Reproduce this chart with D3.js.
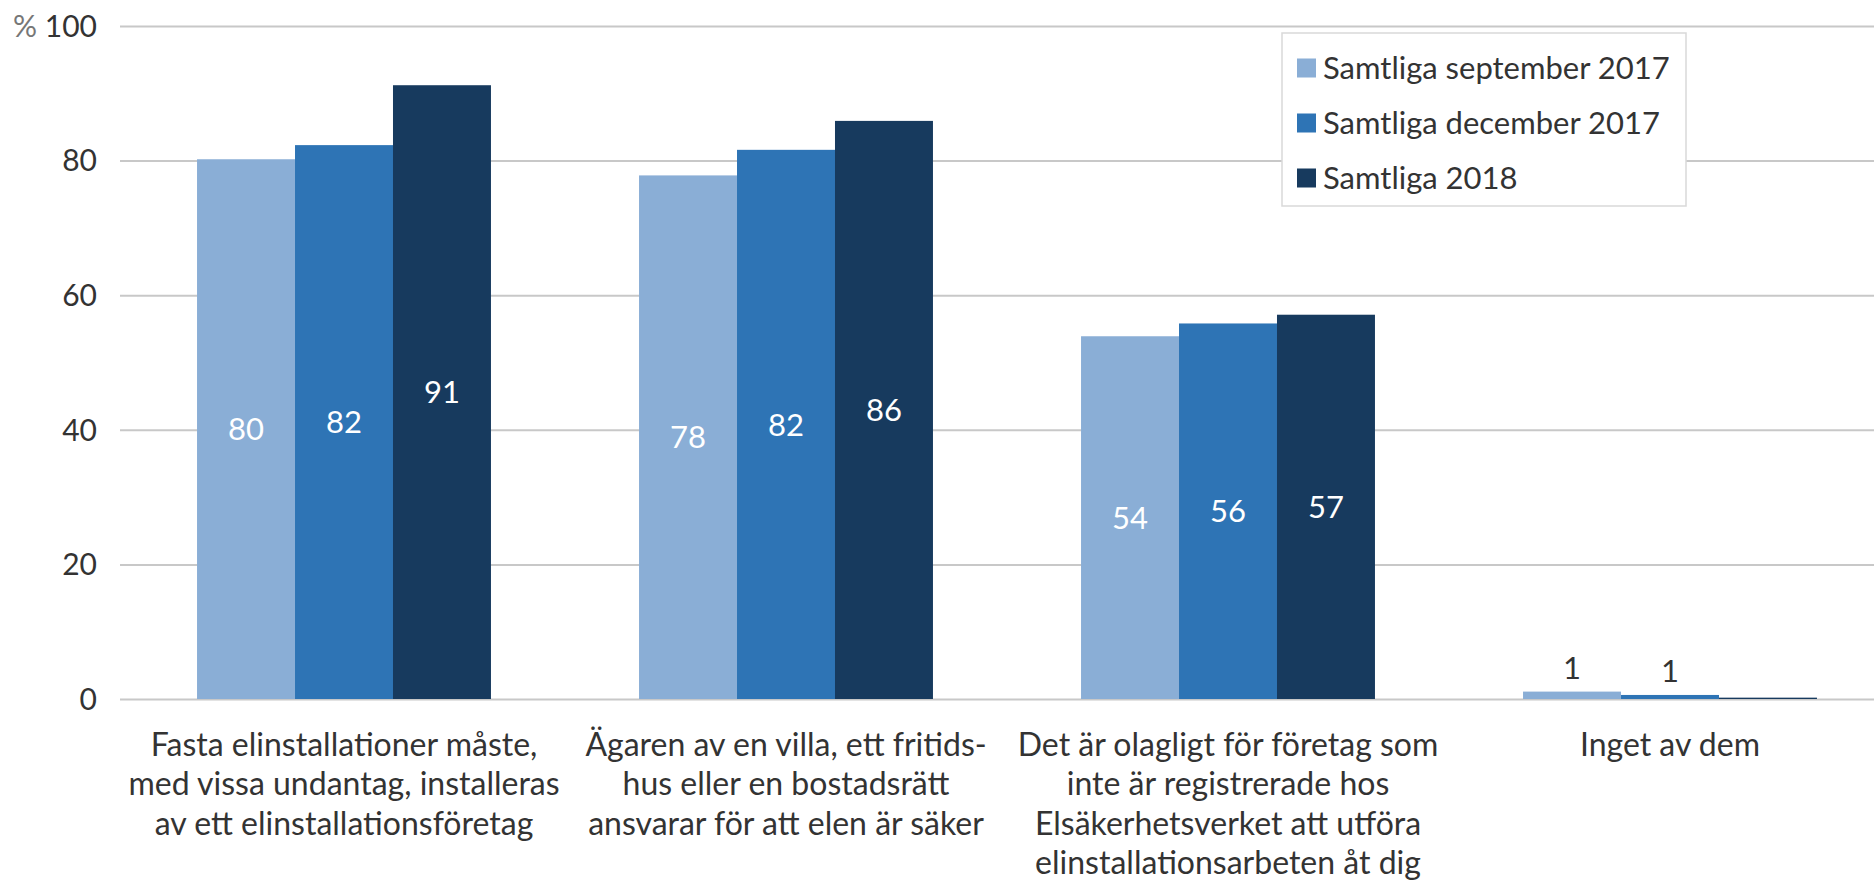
<!DOCTYPE html>
<html>
<head>
<meta charset="utf-8">
<script src="https://cdn.jsdelivr.net/npm/d3@7"></script>
<style>
  html, body { margin: 0; padding: 0; background: #fff; }
  svg { display: block; }
</style>
</head>
<body>
<svg id="chart"></svg>
<script>
// Data
const categories = ['fasta', 'agaren', 'olagligt', 'inget'];
const categoryLines = [
  ['Fasta elinstallationer måste,', 'med vissa undantag, installeras', 'av ett elinstallationsföretag'],
  ['Ägaren av en villa, ett fritids-', 'hus eller en bostadsrätt', 'ansvarar för att elen är säker'],
  ['Det är olagligt för företag som', 'inte är registrerade hos', 'Elsäkerhetsverket att utföra', 'elinstallationsarbeten åt dig'],
  ['Inget av dem']
];
const seriesNames = ['Samtliga september 2017', 'Samtliga december 2017', 'Samtliga 2018'];
const sep2017 = [80.2, 77.8, 53.9, 1.1];
const dec2017 = [82.3, 81.6, 55.8, 0.6];
const y2018 = [91.2, 85.9, 57.1, 0.2];
const yTicks = [0, 20, 40, 60, 80, 100];
const colors = ['#8aaed6', '#2e74b5', '#173a5e'];

const width = 1874;
const height = 881;
const font = 'Lato, "Open Sans", sans-serif';
const textColor = '#333333';

const svg = d3.select('#chart')
  .attr('width', width)
  .attr('height', height)
  .attr('font-family', font);

const seriesValues = [sep2017, dec2017, y2018];
const rows = categories.map((c, i) => ({
  key: c,
  lines: categoryLines[i],
  values: seriesValues.map((s, j) => ({ series: j, value: s[i] }))
}));

// Scales
const x0 = d3.scaleBand()
  .domain(categories)
  .range([123, 1891])
  .paddingInner(0.335)
  .paddingOuter(0.1675);

const x1 = d3.scaleBand()
  .domain(d3.range(seriesNames.length))
  .range([0, x0.bandwidth()]);

const y = d3.scaleLinear()
  .domain([0, 100])
  .range([699, 26]);

// Gridlines
const gridLeft = 120;
svg.append('g')
  .attr('transform', `translate(${gridLeft},0)`)
  .call(d3.axisLeft(y).tickValues(yTicks).tickSize(-(width - gridLeft)).tickFormat(''))
  .call(g => g.select('.domain').remove())
  .call(g => g.selectAll('line').attr('stroke', '#c8c8c8').attr('stroke-width', 2));

// Y labels
const yLabels = svg.append('g')
  .selectAll('text')
  .data(yTicks)
  .join('text')
  .attr('x', 97)
  .attr('y', d => y(d))
  .attr('dy', '0.36em')
  .attr('text-anchor', 'end')
  .attr('font-size', 30)
  .attr('fill', textColor);

yLabels.filter(d => d !== 100).text(d => d);
yLabels.filter(d => d === 100).each(function(d) {
  const t = d3.select(this);
  t.append('tspan').attr('fill', '#777').text('% ');
  t.append('tspan').text(d);
});

// Bars
const groups = svg.append('g')
  .selectAll('g')
  .data(rows)
  .join('g')
  .attr('transform', d => `translate(${x0(d.key)},0)`);

groups.selectAll('rect')
  .data(d => d.values)
  .join('rect')
  .attr('x', d => x1(d.series))
  .attr('width', x1.bandwidth())
  .attr('y', d => y(d.value))
  .attr('height', d => y(0) - y(d.value))
  .attr('fill', d => colors[d.series]);

// Value labels
groups.selectAll('text.value')
  .data(d => d.values.filter(v => Math.round(v.value) > 0))
  .join('text')
  .attr('class', 'value')
  .attr('x', d => x1(d.series) + x1.bandwidth() / 2)
  .attr('y', d => (y(0) - y(d.value)) > 60 ? (y(d.value) + y(0)) / 2 : y(d.value) - 24)
  .attr('dy', '0.36em')
  .attr('text-anchor', 'middle')
  .attr('font-size', 31)
  .attr('fill', d => (y(0) - y(d.value)) > 60 ? '#fff' : textColor)
  .text(d => Math.round(d.value));

// Category labels
groups.append('text')
  .attr('text-anchor', 'middle')
  .attr('font-size', 32)
  .attr('fill', textColor)
  .selectAll('tspan')
  .data(d => d.lines)
  .join('tspan')
  .attr('x', x0.bandwidth() / 2)
  .attr('y', (d, i) => 744 + i * 39.5)
  .attr('dy', '0.36em')
  .text(d => d);

// Legend
const legend = svg.append('g').attr('transform', 'translate(1282,33)');
legend.append('rect')
  .attr('width', 404)
  .attr('height', 173)
  .attr('fill', '#fff')
  .attr('stroke', '#d9d9d9')
  .attr('stroke-width', 1.5);

const items = legend.selectAll('g.item')
  .data(seriesNames)
  .join('g')
  .attr('class', 'item')
  .attr('transform', (d, i) => `translate(15,${35 + i * 55})`);

items.append('rect')
  .attr('y', -9.5)
  .attr('width', 19)
  .attr('height', 19)
  .attr('fill', (d, i) => colors[i]);

items.append('text')
  .attr('x', 26)
  .attr('dy', '0.36em')
  .attr('font-size', 31)
  .attr('fill', textColor)
  .text(d => d);
</script>
</body>
</html>
